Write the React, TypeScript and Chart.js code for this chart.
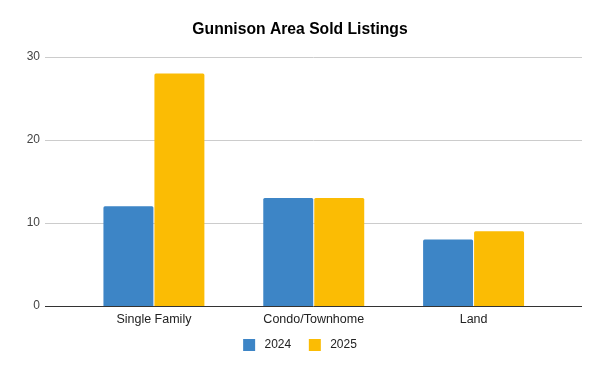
import React, { useEffect, useRef } from "react";
import { Chart, registerables } from "chart.js";

Chart.register(...registerables);

const categories = ["Single Family", "Condo/Townhome", "Land"];
const values2024 = [12, 13, 8];
const values2025 = [28, 13, 9];
const yTicks = [0, 10, 20, 30];

const FONT = "'Liberation Sans', Arial, sans-serif";

const gridPlugin = {
  id: "extGrid",
  beforeDatasetsDraw(chart: any) {
    const { ctx, scales } = chart;
    const y = scales.y;
    const left = 45;
    const right = 582;
    ctx.save();
    yTicks.forEach((t) => {
      const py = Math.round(y.getPixelForValue(t)) + 0.5;
      ctx.beginPath();
      ctx.strokeStyle = t === 0 ? "#333333" : "#cccccc";
      ctx.lineWidth = 1;
      ctx.moveTo(left, py);
      ctx.lineTo(right, py);
      ctx.stroke();
    });
    ctx.restore();
  },
};

export default function App() {
  const ref = useRef<HTMLCanvasElement>(null);
  useEffect(() => {
    if (!ref.current) return;
    const chart = new Chart(ref.current, {
      type: "bar",
      data: {
        labels: categories,
        datasets: [
          {
            label: "2024",
            data: values2024,
            backgroundColor: "#3d85c6",
            categoryPercentage: 0.638,
            barPercentage: 0.98,
            borderRadius: 1.5,
            yAxisID: "y",
          },
          {
            label: "2025",
            data: values2025,
            backgroundColor: "#fbbc04",
            categoryPercentage: 0.638,
            barPercentage: 0.98,
            borderRadius: 1.5,
            yAxisID: "y",
          },
        ],
      },
      options: {
        responsive: false,
        animation: false,
        layout: { padding: { left: 0, right: 0, top: 0, bottom: 10 } },
        plugins: {
          title: {
            display: true,
            text: "Gunnison Area Sold Listings",
            color: "#000000",
            font: { family: FONT, size: 15.7, weight: "bold" },
            padding: { top: 20, bottom: 18 },
          },
          legend: {
            position: "bottom",
            labels: {
              boxWidth: 12,
              boxHeight: 12,
              padding: 11,
              color: "#222222",
              font: { family: FONT, size: 12 },
              generateLabels: (chart: any) => {
                const items = Chart.defaults.plugins.legend.labels.generateLabels(chart);
                const n = items.length;
                return items.map((it: any, i: number) => ({
                  ...it,
                  lineWidth: 0,
                  text: " " + it.text + (i < n - 1 ? "  " : ""),
                }));
              },
            },
          },
          tooltip: { enabled: false },
        },
        scales: {
          x: {
            grid: { display: false, drawTicks: false, tickLength: 0 },
            border: { display: false },
            ticks: { color: "#222222", font: { family: FONT, size: 12.5 }, padding: 6 },
            afterFit: (s: any) => {
              s.height = 22;
            },
          },
          y: {
            position: "left",
            min: 0,
            max: 30,
            grid: { display: false },
            border: { display: false },
            afterBuildTicks: (s: any) => {
              s.ticks = yTicks.map((v) => ({ value: v }));
            },
            ticks: { color: "#444444", font: { family: FONT, size: 12 }, padding: 26 },
            afterFit: (s: any) => {
              s.width = 74;
            },
          },
          yRight: {
            position: "right",
            display: true,
            min: 0,
            max: 30,
            grid: { display: false, drawTicks: false },
            border: { display: false },
            ticks: { display: false },
            afterFit: (s: any) => {
              s.width = 46.5;
            },
          },
        },
      },
      plugins: [gridPlugin],
    });
    return () => chart.destroy();
  }, []);
  return (
    <div style={{ position: "fixed", left: 0, top: 0, width: 600, height: 371, background: "#fff" }}>
      <canvas ref={ref} width={600} height={371} style={{ width: 600, height: 371 }} />
    </div>
  );
}
